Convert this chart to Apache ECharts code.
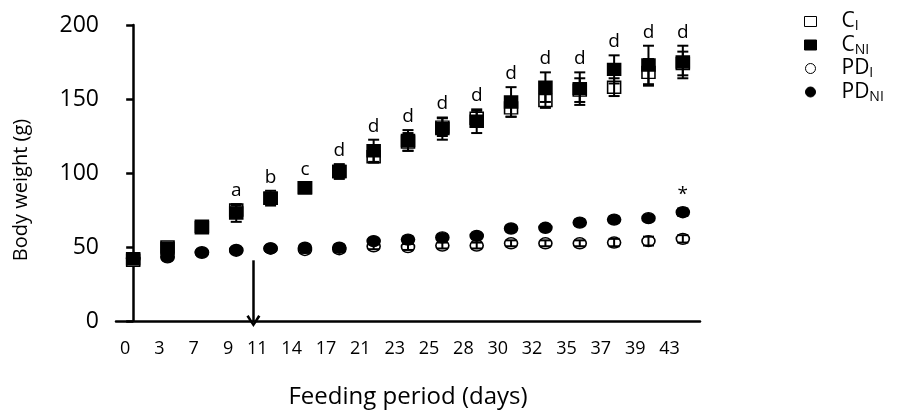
<!DOCTYPE html>
<html>
<head>
<meta charset="utf-8">
<script src="https://cdn.jsdelivr.net/npm/echarts@6/dist/echarts.min.js"></script>
<style>html,body{margin:0;padding:0;background:#fff;}#c{width:899px;height:414px;}</style>
</head>
<body>
<div id="c"></div>
<script>
const days = ['0','3','7','9','11','14','17','21','23','25','28','30','32','35','37','39','43'];
const yTicks = [0, 50, 100, 150, 200];
const cI      = [41, 50, 64, 75, 83, 90, 101, 111, 121, 131, 137, 144, 149, 156, 158, 168, 174];
const cIErr   = [2, 2, 2, 3, 3, 3, 4, 4, 6, 6, 5, 6, 5, 8, 6, 9, 8];
const cNI     = [42, 49, 63, 73, 83, 90, 101, 115, 122, 130, 135, 148, 158, 157, 170, 173, 175];
const cNIErr  = [2, 3, 3, 6, 5, 3, 5, 7.5, 7, 7.5, 8, 10, 10, 11, 9.5, 13, 11];
const pdI     = [42, 43, 46, 47.5, 49, 48, 48.5, 50.5, 50, 51, 51, 52.5, 52.5, 52.5, 53, 54, 55.5];
const pdIErr  = [1.5, 1.5, 1.5, 1.5, 1.5, 2, 2, 2, 2, 2, 2, 2, 2, 2, 2.5, 3, 2.5];
const pdNI    = [42, 43.5, 46.5, 48, 49, 49.5, 49.5, 54, 55, 56.5, 57.5, 62.5, 63, 66.5, 68.5, 69.5, 73.5];
const pdNIErr = [1.5, 1.5, 1.5, 1.5, 1.5, 1.5, 2, 2, 2, 2, 2, 2, 2, 2, 2, 2, 2.5];
const cLetters  = ['', '', '', 'a', 'b', 'c', 'd', 'd', 'd', 'd', 'd', 'd', 'd', 'd', 'd', 'd', 'd'];
const pdLetters = ['', '', '', '', '', '', '', '', '', '', '', '', '', '', '', '', '*'];
const arrowDayPos = 3.5;   // between day 9 and day 11 (category units)
const arrowTop = 41;       // body weight value where arrow starts

const FONT = 'Open Sans';
const seriesDefs = [
  {name: 'C_I',   mean: cI,   err: cIErr,   symbol: 'rect',   fill: '#ffffff'},
  {name: 'C_NI',  mean: cNI,  err: cNIErr,  symbol: 'rect',   fill: '#000000'},
  {name: 'PD_I',  mean: pdI,  err: pdIErr,  symbol: 'circle', fill: '#ffffff'},
  {name: 'PD_NI', mean: pdNI, err: pdNIErr, symbol: 'circle', fill: '#000000'}
];

function errRender(params, api) {
  const x = api.value(0), m = api.value(1), e = api.value(2);
  const top = api.coord([x, m + e]);
  const bot = api.coord([x, m - e]);
  const hw = 5.5;
  const st = {stroke: '#000', lineWidth: 2};
  return {type: 'group', children: [
    {type: 'line', shape: {x1: top[0], y1: top[1], x2: bot[0], y2: bot[1]}, style: st},
    {type: 'line', shape: {x1: top[0] - hw, y1: top[1], x2: top[0] + hw, y2: top[1]}, style: st},
    {type: 'line', shape: {x1: bot[0] - hw, y1: bot[1], x2: bot[0] + hw, y2: bot[1]}, style: st}
  ]};
}

const series = [];
seriesDefs.forEach(d => {
  series.push({
    name: d.name, type: 'scatter', symbol: d.symbol,
    symbolSize: d.symbol === 'rect' ? [13, 12] : [13, 11],
    data: d.mean.map((v, i) => [i, v]),
    itemStyle: {color: d.fill, borderColor: '#000', borderWidth: 1.5, opacity: 1},
    z: 2, silent: true
  });
});
seriesDefs.forEach(d => {
  series.push({
    type: 'custom', renderItem: errRender, z: 3, silent: true,
    encode: {x: 0, y: 1},
    data: d.mean.map((v, i) => [i, v, d.err[i]])
  });
});
// annotation letters
const annData = [];
cLetters.forEach((t, i) => {
  if (t) annData.push([i, Math.max(cI[i] + cIErr[i], cNI[i] + cNIErr[i]), t]);
});
pdLetters.forEach((t, i) => {
  if (t) annData.push([i, Math.max(pdI[i] + pdIErr[i], pdNI[i] + pdNIErr[i]), t]);
});
series.push({
  type: 'custom', z: 4, silent: true, encode: {x: 0, y: 1},
  data: annData,
  renderItem: function (params, api) {
    const p = api.coord([api.value(0), api.value(1)]);
    const txt = annData[params.dataIndex][2];
    return {type: 'text', x: p[0], y: p[1] - 4,
      style: {text: txt, align: 'center', verticalAlign: 'bottom',
        fontSize: 19, fontFamily: FONT, fill: '#000'}};
  }
});
// arrow
series.push({
  type: 'scatter', xAxisIndex: 1, data: [], silent: true,
  markLine: {
    silent: true, animation: false,
    symbol: ['none', 'path://M0,9 L5,0 L10,9 L8.4,10.2 L5,3.6 L1.6,10.2 Z'],
    symbolSize: [14, 12], symbolOffset: [0, 0],
    label: {show: false},
    lineStyle: {color: '#000', width: 2.5, type: 'solid'},
    itemStyle: {color: '#000'},
    data: [[{coord: [arrowDayPos, arrowTop]}, {coord: [arrowDayPos, 0]}]]
  }
});

const chart = echarts.init(document.getElementById('c'));
chart.setOption({
  animation: false,
  backgroundColor: '#fff',
  grid: {left: 116, right: 199, top: 25, bottom: 90, containLabel: false},
  legend: {
    orient: 'vertical', left: 799, top: 6, itemGap: 1,
    itemWidth: 12, itemHeight: 10, selectedMode: false,
    data: [
      {name: 'C_I', icon: 'rect', itemStyle: {color: '#fff', borderColor: '#000', borderWidth: 1}},
      {name: 'C_NI', icon: 'rect', itemStyle: {color: '#000', borderColor: '#000', borderWidth: 1}},
      {name: 'PD_I', icon: 'circle', itemStyle: {color: '#fff', borderColor: '#000', borderWidth: 1}},
      {name: 'PD_NI', icon: 'circle', itemStyle: {color: '#000', borderColor: '#000', borderWidth: 1}}
    ],
    formatter: function (n) {
      const parts = n.split('_');
      return '{sp|}{b|' + parts[0] + '}{s|' + parts[1] + '}';
    },
    textStyle: {
      rich: {
        sp: {width: 20},
        b: {fontSize: 21, fontFamily: FONT, color: '#000', lineHeight: 25},
        s: {fontSize: 14, fontFamily: FONT, color: '#000', padding: [10, 0, 0, 0]}
      }
    }
  },
  xAxis: [{
    type: 'category', data: days, boundaryGap: true,
    name: 'Feeding period (days)', nameLocation: 'middle', nameGap: 64,
    nameTextStyle: {fontSize: 24, fontFamily: FONT, color: '#000'},
    axisLine: {lineStyle: {color: '#000', width: 2.5}},
    axisTick: {alignWithLabel: true, length: 6, lineStyle: {color: '#000', width: 2.5}},
    axisLabel: {fontSize: 18, fontFamily: FONT, color: '#000', margin: 19, align: 'right', padding: [0, 3, 0, 0], interval: 0},
    splitLine: {show: false}
  }, {
    type: 'value', min: -0.5, max: 16.5, show: false
  }],
  yAxis: {
    type: 'value', min: yTicks[0], max: yTicks[yTicks.length - 1], interval: 50,
    name: 'Body weight (g)', nameLocation: 'middle', nameGap: 85,
    nameTextStyle: {fontSize: 20, fontFamily: FONT, color: '#000', padding: [0, 34, 0, 0]},
    axisLine: {show: true, lineStyle: {color: '#000', width: 2.5}},
    axisTick: {show: true, length: 7, lineStyle: {color: '#000', width: 2.5}},
    axisLabel: {fontSize: 23, fontFamily: FONT, color: '#000', margin: 17},
    splitLine: {show: false}
  },
  series: series
});
</script>
</body>
</html>
